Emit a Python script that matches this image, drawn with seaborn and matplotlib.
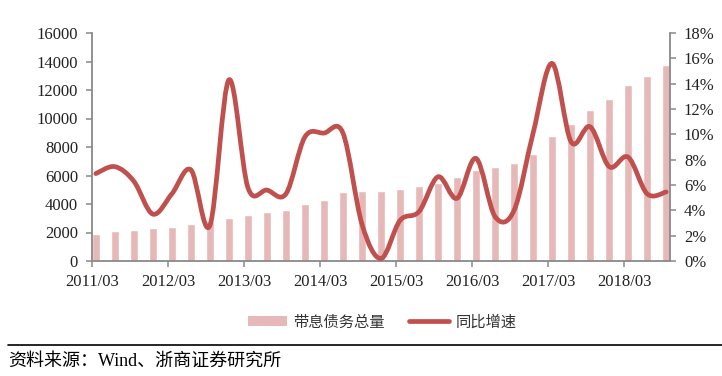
import numpy as np
import pandas as pd
import matplotlib
matplotlib.use("Agg")
import matplotlib.pyplot as plt
import seaborn as sns
from matplotlib.path import Path
from matplotlib.patches import PathPatch, Patch
from matplotlib.lines import Line2D

quarters = [f"{y}/{m:02d}" for y in range(2011, 2019) for m in (3, 6, 9, 12)][:31]
debt_total = [1900, 2100, 2200, 2300, 2400, 2600, 2800, 3000, 3200, 3450, 3550,
              4000, 4280, 4820, 4900, 4900, 5030, 5240, 5500, 5870, 6390, 6620,
              6900, 7530, 8800, 9640, 10600, 11400, 12350, 12980, 13730]
yoy_growth = [6.9, 7.45, 6.3, 3.7, 5.3, 7.2, 2.8, 14.3, 5.8, 5.6, 5.3,
              9.8, 10.1, 10.1, 2.9, 0.2, 3.2, 3.9, 6.65, 4.95, 8.1, 3.5,
              4.0, 10.1, 15.6, 9.4, 10.6, 7.45, 8.2, 5.3, 5.45]
tick_labels = ["2011/03", "2012/03", "2013/03", "2014/03", "2015/03", "2016/03", "2017/03", "2018/03"]

bar_color = "#E6B9B8"
line_color = "#C0504D"
spine_color = "#898989"

sns.set_style("white")
plt.rcParams["font.family"] = ["Liberation Serif", "Noto Sans CJK SC", "DejaVu Sans"]

fig = plt.figure(figsize=(7.22, 3.76), dpi=100)
ax = fig.add_axes([92 / 722, 1 - 261 / 376, (670 - 92) / 722, (261 - 33) / 376])

df = pd.DataFrame({"quarter": quarters, "debt": debt_total})
sns.barplot(data=df, x="quarter", y="debt", color=bar_color, width=0.39,
            saturation=1, ax=ax, zorder=1)

ax.set_xlim(-0.2, 30.2)
ax.set_ylim(0, 16000)
ax.set_yticks(np.arange(0, 16001, 2000))
ax.set_yticklabels([str(v) for v in range(0, 16001, 2000)])
ax.set_xticks(np.arange(0, 31, 4) - 0.2)
ax.set_xticklabels(tick_labels)
ax.set_xlabel("")
ax.set_ylabel("")

ax2 = ax.twinx()
ax2.set_ylim(0, 18)
ax2.set_yticks(np.arange(0, 19, 2))
ax2.set_yticklabels([f"{v}%" for v in range(0, 19, 2)])
ax2.set_xlim(-0.2, 30.2)

# smooth line (Catmull-Rom as cubic Bezier segments)
xs = np.arange(len(yoy_growth), dtype=float)
ys = np.array(yoy_growth, dtype=float)
n = len(xs)
verts = [(xs[0], ys[0])]
codes = [Path.MOVETO]
for i in range(n - 1):
    p0 = (xs[max(i - 1, 0)], ys[max(i - 1, 0)])
    p1 = (xs[i], ys[i])
    p2 = (xs[i + 1], ys[i + 1])
    p3 = (xs[min(i + 2, n - 1)], ys[min(i + 2, n - 1)])
    c1 = (p1[0] + (p2[0] - p0[0]) / 6, p1[1] + (p2[1] - p0[1]) / 6)
    c2 = (p2[0] - (p3[0] - p1[0]) / 6, p2[1] - (p3[1] - p1[1]) / 6)
    verts += [c1, c2, p2]
    codes += [Path.CURVE4] * 3
patch = PathPatch(Path(verts, codes), facecolor="none", edgecolor=line_color,
                  lw=3.4, capstyle="round", joinstyle="round", zorder=3)
ax2.add_patch(patch)

for a in (ax, ax2):
    a.spines["top"].set_visible(False)
    for s in ("left", "right", "bottom"):
        a.spines[s].set_color(spine_color)
        a.spines[s].set_linewidth(1.3)
ax.spines["right"].set_visible(False)
ax2.spines["left"].set_visible(False)
ax2.spines["bottom"].set_visible(False)

ax.tick_params(axis="y", direction="out", length=4, width=1.1, color=spine_color,
               labelsize=12, labelcolor="#222222", pad=6, left=True)
ax.tick_params(axis="x", direction="out", length=4, width=1.1, color=spine_color,
               labelsize=12, labelcolor="#222222", pad=5, bottom=True)
ax2.tick_params(axis="y", direction="out", length=4, width=1.1, color=spine_color,
                labelsize=12, labelcolor="#222222", pad=6, right=True)
ax.grid(False)
ax2.grid(False)

handles = [Patch(facecolor=bar_color, edgecolor="none"),
           Line2D([0], [0], color=line_color, lw=3.4)]
fig.legend(handles, ["带息债务总量", "同比增速"], loc="center",
           bbox_to_anchor=(382 / 722, 1 - 322 / 376), ncol=2, frameon=False,
           prop={"family": ["Noto Sans CJK SC"], "size": 11},
           handlelength=2.6, handleheight=0.6, columnspacing=1.6, handletextpad=0.4,
           labelcolor="#333333")

fig.add_artist(Line2D([8 / 722, 1.0], [1 - 345 / 376, 1 - 345 / 376],
                      color="black", lw=1.2, transform=fig.transFigure))
fig.text(8 / 722, 1 - 361 / 376, "资料来源：Wind、浙商证券研究所", ha="left", va="center",
         fontsize=13, family=["Liberation Serif", "Noto Sans CJK SC"], color="black")

fig.savefig("out.png", dpi=100)
